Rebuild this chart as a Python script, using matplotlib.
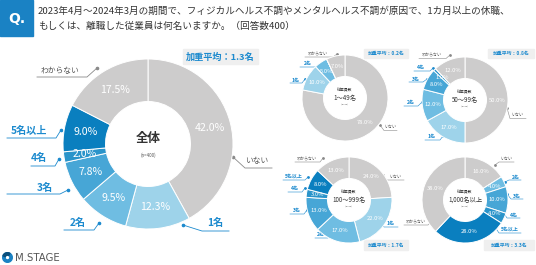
import matplotlib
matplotlib.use("Agg")
import matplotlib.pyplot as plt
from matplotlib.patches import Rectangle, Wedge
import numpy as np

plt.rcParams['font.family'] = ['Noto Sans CJK JP', 'DejaVu Sans']

# ---------------- data ----------------
categories = ['いない', '1名', '2名', '3名', '4名', '5名以上', 'わからない']
overall = [42.0, 12.3, 9.5, 7.8, 2.0, 9.0, 17.5]
size_1_49 = [78.0, 10.0, 5.0, 0.0, 0.0, 0.0, 7.0]
size_50_99 = [50.0, 17.0, 12.0, 8.0, 1.0, 0.0, 12.0]
size_100_999 = [24.0, 22.0, 17.0, 13.0, 3.0, 8.0, 13.0]
size_1000 = [16.0, 0.0, 4.0, 10.0, 4.0, 28.0, 38.0]
group_titles = ['全体', '1～49名', '50～99名', '100～999名', '1,000名以上']
group_n = ['(n=400)', '(n=100)', '(n=100)', '(n=100)', '(n=100)']
weighted_avg = [1.3, 0.2, 0.8, 1.7, 3.3]
title_text = ("2023年4月～2024年3月の期間で、フィジカルヘルス不調やメンタルヘルス不調が原因で、1カ月以上の休職、\n"
              "もしくは、離職した従業員は何名いますか。（回答数400）")

# ---------------- style ----------------
colors = ['#cdcccc', '#9ed3ea', '#6fbde2', '#47a6d6', '#2a94ca', '#0a7fbf', '#cdcccc']
BLUE_TXT = '#1c8ace'
GRAY_TXT = '#555555'
GRAY_LINE = '#8a8a8a'
W, H = 536, 265

fig = plt.figure(figsize=(W / 100, H / 100), dpi=100)
fig.patch.set_facecolor('white')
ax0 = fig.add_axes([0, 0, 1, 1])
ax0.set_xlim(0, W)
ax0.set_ylim(H, 0)
ax0.axis('off')

# Header
ax0.add_patch(Rectangle((0, 0), 33, 36, color='#1a82c4', zorder=1))
ax0.text(16.5, 19, 'Q.', color='white', fontsize=10, fontweight='bold',
         ha='center', va='center', family='DejaVu Sans')
ax0.text(38, 19, title_text, fontsize=6.9, color='#333333', ha='left', va='center',
         linespacing=1.75)

# Logo
ax0.add_patch(Wedge((7.5, 257.5), 4.8, 0, 360, width=2.4, color='#1a82c4'))
ax0.add_patch(Wedge((7.5, 257.5), 4.8, 200, 300, width=2.4, color='#0b4f7c'))
ax0.text(15, 258, 'M.STAGE', fontsize=7.3, color='#555555', ha='left', va='center',
         family='DejaVu Sans')


def donut(values, cx, cy, r, title, n, pct_fs, title_fs, sub_fs, n_fs, show_sub):
    ax = fig.add_axes([(cx - r) / W, (H - cy - r) / H, 2 * r / W, 2 * r / H])
    wedges, _ = ax.pie(values, colors=colors, startangle=90, counterclock=False,
                       radius=1.0,
                       wedgeprops=dict(width=0.5, edgecolor='white', linewidth=0.7))
    ax.set_xlim(-1, 1)
    ax.set_ylim(-1, 1)
    ax.axis('off')
    for w, v in zip(wedges, values):
        if v <= 0:
            continue
        th = np.deg2rad((w.theta1 + w.theta2) / 2)
        ax.text(0.75 * np.cos(th), 0.75 * np.sin(th), f'{v:.1f}%', color='white',
                fontsize=pct_fs, ha='center', va='center')
    if show_sub:
        ax.text(0, 0.17, '従業員数', fontsize=sub_fs, ha='center', va='center', color='#333333')
        ax.text(0, 0.0, title, fontsize=title_fs, ha='center', va='center', color='#333333')
        ax.text(0, -0.14, n, fontsize=n_fs, ha='center', va='center', color='#555555')
    else:
        ax.text(0, 0.06, title, fontsize=title_fs, ha='center', va='center',
                color='#333333', fontweight='bold')
        ax.text(0, -0.13, n, fontsize=n_fs, ha='center', va='center', color='#555555')
    return ax


def leader(text, tx, ty, dot, elbow, end, blue, fs, bold=True):
    c_txt = BLUE_TXT if blue else GRAY_TXT
    c_line = BLUE_TXT if blue else GRAY_LINE
    ax0.plot([dot[0], elbow[0], end], [dot[1], elbow[1], elbow[1]], color=c_line,
             lw=0.6 if fs > 5 else 0.4, zorder=3)
    ax0.plot(dot[0], dot[1], 'o', color=c_line, ms=1.6 if fs > 5 else 1.0, zorder=3)
    ax0.text(tx, ty, text, fontsize=fs, color=c_txt, ha='center', va='center',
             fontweight='bold' if (blue and bold) else 'normal', zorder=3)


def avg_box(x0, y0, x1, y1, val, fs):
    ax0.add_patch(Rectangle((x0, y0), x1 - x0, y1 - y0, color='#efefef', zorder=2))
    ax0.text((x0 + x1) / 2, (y0 + y1) / 2 + 0.3, f'加重平均：{val}名', fontsize=fs,
             color=BLUE_TXT, fontweight='bold', ha='center', va='center', zorder=3)


# ---------------- main donut ----------------
donut(overall, 148, 144, 85, group_titles[0], group_n[0], 7.6, 9, 0, 3.2, False)
avg_box(183, 49, 258, 64, weighted_avg[0], 6.6)
FS = 7.3
leader(categories[6], 60, 70.5, (97, 68), (87, 77), 37, False, 5.6)
leader(categories[0], 257, 161.5, (233, 157), (245, 168), 272, False, 5.6)
leader(categories[1], 215, 223, (183, 225), (202, 231), 229, True, FS)
leader(categories[2], 78, 223, (99, 223), (94, 230), 64, True, FS)
leader(categories[3], 45, 187.5, (68, 190), (60, 194), 7, True, FS)
leader(categories[4], 39, 158, (59, 159), (55, 166), 31, True, FS)
leader(categories[5], 29, 130.5, (61, 130), (56, 138), 7, True, FS)

# ---------------- small donuts ----------------
SFS = 3.6
PFS = 4.2
AFS = 3.5
donut(size_1_49, 345, 98, 43, group_titles[1], group_n[1], PFS, 4.5, 2.8, 1.6, True)
avg_box(364, 48.5, 408, 57.5, weighted_avg[1], AFS)
leader(categories[6], 318, 54.5, (337, 54), (333, 57), 305, False, 2.9)
leader(categories[2], 308, 63.5, (322, 63), (318, 67), 300, True, SFS)
leader(categories[1], 296, 80.5, (305, 79), (302, 83), 290, True, SFS)
leader(categories[0], 390, 127.5, (380, 125), (384, 130.5), 397, False, 2.9)

donut(size_50_99, 465, 100, 43, group_titles[2], group_n[2], PFS, 4.5, 2.8, 1.6, True)
avg_box(488, 48.5, 534, 57.5, weighted_avg[2], AFS)
leader(categories[6], 432, 55, (450, 55), (446, 58.5), 419, False, 2.9)
leader(categories[4], 421, 67.5, (433, 68), (430, 71), 414, True, SFS)
leader(categories[3], 416, 79, (427, 79), (423, 82), 409, True, SFS)
leader(categories[2], 411, 102.5, (422, 102), (418, 106), 404, True, SFS)
leader(categories[1], 432, 136.5, (443, 136), (440, 140), 425, True, SFS)
leader(categories[0], 517, 115.5, (507, 108), (510, 118.5), 526, False, 2.9)

donut(size_100_999, 349, 200, 43, group_titles[3], group_n[3], PFS, 4.5, 2.8, 1.6, True)
avg_box(364, 240, 408, 250, weighted_avg[3], AFS)
leader(categories[6], 307, 159, (323, 158), (320, 162), 295, False, 2.9)
leader(categories[5], 294, 176.5, (308, 177), (305, 180), 283, True, SFS)
leader(categories[4], 295, 188.5, (305, 188), (302, 192), 288, True, SFS)
leader(categories[3], 297, 210.5, (307, 210), (304, 214), 290, True, SFS)
leader(categories[2], 321, 234.5, (330, 232), (328, 238), 315, True, SFS)
leader(categories[1], 391, 223.5, (380, 220), (384, 227), 398, True, SFS)
leader(categories[0], 395, 176.5, (383, 175), (386, 180), 404, False, 2.9)

donut(size_1000, 465, 200, 43, group_titles[4], group_n[4], PFS, 4.5, 2.8, 1.6, True)
avg_box(484, 240, 534, 250, weighted_avg[4], AFS)
leader(categories[0], 506, 159, (495, 165), (499, 162), 514, False, 2.9)
leader(categories[2], 516, 177, (505, 182), (509, 180), 521, True, SFS)
leader(categories[3], 517, 196, (507, 194), (511, 199), 523, True, SFS)
leader(categories[4], 514, 215, (503, 212), (507, 218), 520, True, SFS)
leader(categories[5], 510, 229.5, (495, 227), (499, 233), 521, True, SFS)
leader(categories[6], 416, 222, (432, 221), (428, 225), 404, False, 2.9)

fig.savefig('out.png', dpi=100, facecolor='white')
